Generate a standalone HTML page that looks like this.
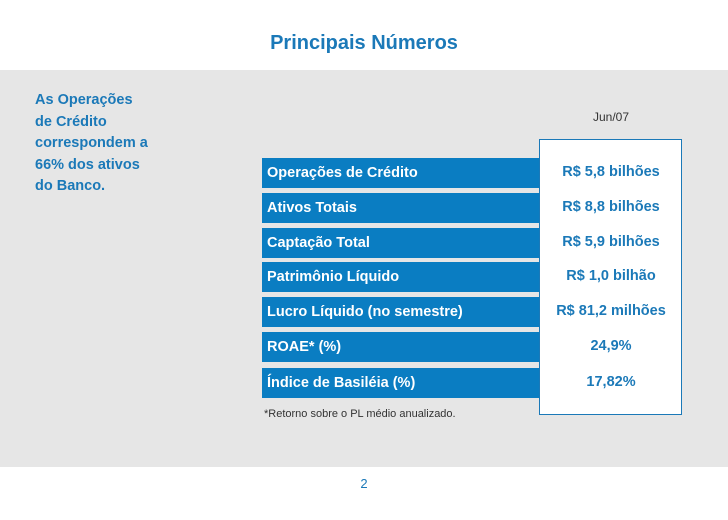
<!DOCTYPE html>
<html><head><meta charset="utf-8"><style>
body{margin:0;width:728px;height:520px;position:relative;background:#fff;font-family:"Liberation Sans",sans-serif;overflow:hidden}
.abs{position:absolute}
.bar{position:absolute;left:262px;width:277px;height:30px;background:#0a7dc2;color:#fff;font-weight:bold;font-size:14.5px;line-height:30px;padding-left:5px;box-sizing:border-box}
.val{position:absolute;left:540px;width:142px;text-align:center;color:#1b79b8;font-weight:bold;font-size:14.5px;line-height:30px}
</style></head><body>
<div class="abs" style="left:0;top:70px;width:728px;height:397px;background:#e6e6e6"></div>
<div class="abs" style="left:0;width:728px;top:32px;text-align:center;color:#1b79b8;font-weight:bold;font-size:20px;">Principais Números</div>
<div class="abs" style="left:35px;top:90px;color:#1b79b8;font-weight:bold;font-size:14.5px;line-height:21.5px">As Operações<br>de Crédito<br>correspondem a<br>66% dos ativos<br>do Banco.</div>
<div class="abs" style="left:539px;top:139px;width:141px;height:274px;background:#fff;border:1px solid #1b79b8"></div>
<div class="abs" style="left:540px;width:142px;top:110px;text-align:center;font-size:12px;color:#333">Jun/07</div>
<div id="rows"></div>
<div class="abs" style="left:264px;top:408px;font-size:11px;color:#333">*Retorno sobre o PL médio anualizado.</div>
<div class="abs" style="left:0;width:728px;top:476px;text-align:center;font-size:13px;color:#1b79b8">2</div>
<script>
const labels=["Operações de Crédito","Ativos Totais","Captação Total","Patrimônio Líquido","Lucro Líquido (no semestre)","ROAE* (%)","Índice de Basiléia (%)"];
const values=["R$ 5,8 bilhões","R$ 8,8 bilhões","R$ 5,9 bilhões","R$ 1,0 bilhão","R$ 81,2 milhões","24,9%","17,82%"];
const tops=[158,193,228,262,297,332,368];
const c=document.getElementById('rows');
labels.forEach((l,i)=>{
 const b=document.createElement('div');b.className='bar';b.style.top=tops[i]+'px';b.textContent=l;
 
 
 c.appendChild(b);
 const v=document.createElement('div');v.className='val';v.style.top=(tops[i]-1)+'px';v.textContent=values[i];
 
 
 c.appendChild(v);
});
</script>
</body></html>
